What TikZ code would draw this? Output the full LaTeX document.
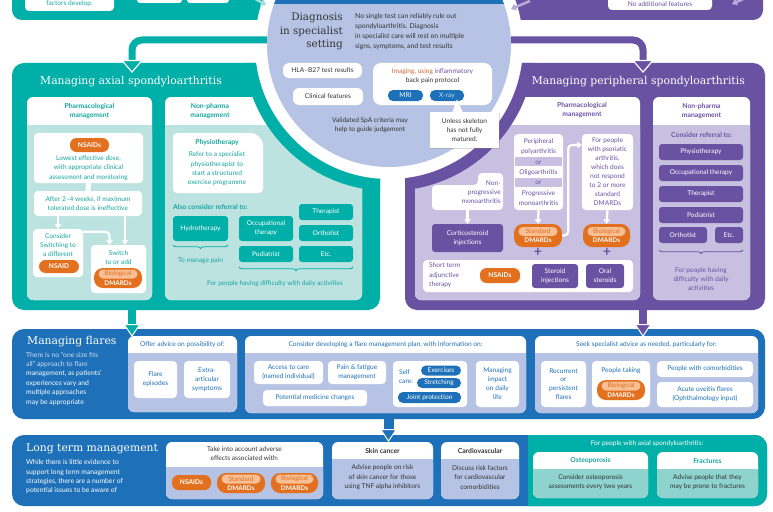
\documentclass[tikz,border=0pt]{standalone}
\usepackage{fontspec}
\setsansfont{Lato}
\newfontfamily\headfont{DejaVu Serif}
\usetikzlibrary{arrows.meta,positioning,shadows,decorations.pathreplacing}
\definecolor{tealD}{HTML}{00AFA8}
\definecolor{tealL}{HTML}{BDE3E1}
\definecolor{tealM}{HTML}{8FD3CE}
\definecolor{tealT}{HTML}{15A59F}
\definecolor{tealP}{HTML}{A3DDD9}
\definecolor{purpD}{HTML}{6A52A3}
\definecolor{purpL}{HTML}{C8C0E0}
\definecolor{purpP}{HTML}{B7ACD8}
\definecolor{blueD}{HTML}{1E71B8}
\definecolor{blueL}{HTML}{B7C3E4}
\definecolor{blueT}{HTML}{CFDBF2}
\definecolor{blueX}{HTML}{C9D6F0}
\definecolor{orng}{HTML}{E2701F}
\definecolor{orngL}{HTML}{F8BF95}
\definecolor{orngT}{HTML}{C96A2C}
\definecolor{txt}{HTML}{333333}
\newcommand\splitbox[6]{%
  \fill[white,rounded corners=6pt] (#1,#2) rectangle (#3,#5);
  \fill[#6,rounded corners=6pt] (#1,#4) rectangle (#3,#5);
  \fill[#6] (#1,#4) rectangle (#3,#4+7);}
\newcommand\dmardpill[6]{%
  \node[opill,rounded corners=9pt,minimum width=#4,minimum height=#5] (#1) at (#2,#3) {};
  \node[ipill,minimum width=#4-9] (#1-w) at ([yshift=4pt]#1.center) {#6};
  \node[dm] (#1-d) at ([yshift=-5pt]#1.center) {DMARDs};}

\begin{document}
\begin{tikzpicture}[x=1pt,y=-1pt,font=\sffamily\fontsize{6.6}{9}\selectfont,
  panel/.style={fill=#1,rounded corners=12pt,inner sep=0pt},
  wbox/.style={fill=white,rounded corners=4pt,align=center,inner sep=0pt},
  tbox/.style={fill=tealD,text=white,rounded corners=3pt,align=center,inner sep=0pt},
  pbox/.style={fill=purpD,text=white,rounded corners=3pt,align=center,inner sep=0pt},
  opill/.style={fill=orng,text=white,rounded corners=6.5pt,inner sep=0pt,
    font=\sffamily\bfseries\fontsize{6.6}{8}\selectfont},
  ipill/.style={fill=orngL,text=orng,minimum height=9,rounded corners=4.5pt,inner sep=0pt,
    font=\sffamily\fontsize{6.4}{8}\selectfont},
  dm/.style={text=white,inner sep=0pt,font=\sffamily\bfseries\fontsize{6.4}{8}\selectfont},
  bpill/.style={fill=blueD,text=white,rounded corners=5pt,inner sep=0pt},
  hd/.style={align=center,inner sep=0pt,font=\sffamily\bfseries\fontsize{6.8}{9}\selectfont},
  tx/.style={align=center,inner sep=0pt},
  head/.style={text=white,inner sep=0pt,font=\headfont\fontsize{10.8}{13.5}\selectfont},
  warr/.style={white,line width=2.2pt,-{Triangle[width=6.5pt,length=4.5pt]}},
  bigarr/.style={draw=#1,line width=7pt,rounded corners=10pt,
    -{Triangle[width=22pt,length=13pt,fill=#1,color=white,line width=1.2pt]}},
  downarr/.style={draw=#1,line width=8pt,
    -{Triangle[width=17pt,length=13pt,fill=#1,color=white,line width=1pt]}},
  brc/.style={draw=#1,line width=0.8pt,decorate,decoration={brace,mirror,amplitude=3.5pt}},
  plus/.style={text=purpD,inner sep=0pt,font=\sffamily\bfseries\fontsize{14}{14}\selectfont}]
  \useasboundingbox (0,0) rectangle (773,511);
  \fill[white] (0,0) rectangle (773,511);
  \coordinate (axin) at (132,73);
  \coordinate (perin) at (643,73);
  \coordinate (flaxin) at (132,337);
  \coordinate (flperin) at (643,337);
  \coordinate (ltin) at (388.5,442);
  \fill[tealD,rounded corners=10pt] (12,-20) rectangle (300,20);
  \fill[purpD,rounded corners=10pt] (480,-20) rectangle (763,20);
  \fill[white,rounded corners=4pt] (25,-12) rectangle (114,11);
  \fill[white,rounded corners=3pt] (137,-12) rectangle (182,3);
  \fill[white,rounded corners=3pt] (187,-12) rectangle (229,3);
  \fill[white,rounded corners=4pt] (608,-12) rectangle (712,10);
  \node[tx,text=tealT] (factors) at (69.5,4) {factors develop.};
  \node[tx,text=purpD] (noadd) at (660,4) {No additional features};

  \node[panel=tealD,minimum width=368,minimum height=247] (axial) at (196,186.5) {};
  \node[panel=purpD,minimum width=360,minimum height=247] (periph) at (585,186.5) {};
  \node[panel=blueD,minimum width=753,minimum height=90] (flares) at (388.5,374) {};
  \node[panel=blueD,minimum width=755,minimum height=71] (longterm) at (389.5,470.5) {};
  \begin{scope}
    \clip[rounded corners=12pt] (12,435) rectangle (767,506);
    \fill[tealD] (528,430) rectangle (770,510);
  \end{scope}

  \splitbox{27}{97}{152}{125}{300}{tealL}
  \splitbox{165}{97}{362}{125}{300}{tealL}
  \splitbox{415}{97}{640}{125}{300}{purpL}
  \splitbox{653}{97}{750}{125}{300}{purpL}
  \splitbox{128}{336}{237}{353}{412}{blueL}
  \splitbox{245}{336}{526}{353}{413}{blueL}
  \splitbox{535}{336}{758}{353}{413}{blueL}
  \splitbox{166}{442}{323}{467}{499}{blueL}
  \splitbox{332}{442}{433}{459}{499}{blueL}
  \splitbox{441}{442}{519}{459}{499}{blueL}
  \splitbox{533}{452}{648}{469}{498}{tealM}
  \splitbox{657}{452}{758}{469}{498}{tealM}

  \begin{scope}
    \clip[rounded corners=12pt] (12,63) rectangle (380,310);
    \fill[tealD] (389,45) circle[radius=146pt];
  \end{scope}
  \begin{scope}
    \clip[rounded corners=12pt] (405,63) rectangle (765,310);
    \fill[purpD] (389,45) circle[radius=146pt];
  \end{scope}
  \fill[white] (389,45) circle[radius=134pt];

  \coordinate (ta1) at (250,-4); \coordinate (ta2) at (266,5);
  \coordinate (pa1) at (530,1); \coordinate (pa2) at (511,9);
  \coordinate (pb1) at (750,-4); \coordinate (pb2) at (732,4);
  \draw[tealP,line width=2.5pt,-{Triangle[width=7pt,length=5pt]}] (ta1) -- (ta2);
  \draw[purpP,line width=2.5pt,-{Triangle[width=7pt,length=5pt]}] (pa1) -- (pa2);
  \draw[purpP,line width=2.5pt,-{Triangle[width=7pt,length=5pt]}] (pb1) -- (pb2);

  \node[circle,fill=blueL,minimum size=244,inner sep=0pt] (diag) at (389,45) {};
  \begin{scope}
    \clip (389,45) circle[radius=122pt];
    \fill[blueD] (250,-10) rectangle (530,4);
  \end{scope}
  \draw[bigarr=tealD] ([yshift=5pt]diag.west) -| (axin);
  \draw[bigarr=purpD] ([yshift=5pt]diag.east) -| (perin);
  \draw[downarr=tealD] ([xshift=-64pt,yshift=5pt]axial.south) -- (flaxin);
  \draw[downarr=purpD] ([xshift=58pt,yshift=5pt]periph.south) -- (flperin);
  \draw[downarr=blueD,line width=10pt] ([yshift=5pt]flares.south) -- (ltin);

  \node[anchor=east,align=right,inner sep=0pt,text=txt,font=\headfont\fontsize{10.4}{13.5}\selectfont]
    (diaghead) at (343,31.5) {Diagnosis\\in specialist\\setting};
  \node[anchor=west,align=left,inner sep=0pt,text=txt,font=\sffamily\fontsize{6.8}{9.8}\selectfont]
    (diagtxt) at (355,31.5) {No single test can reliably rule out\\spondyloarthritis. Diagnosis\\in specialist care will rest on multiple\\signs, symptoms, and test results};
  \node[wbox,rounded corners=6pt,minimum width=79,minimum height=15,text=txt] (hla) at (322.5,70.5) {HLA–B27 test results};
  \node[wbox,rounded corners=6pt,minimum width=70,minimum height=17,text=txt] (clin) at (328,96.5) {Clinical features};
  \node[wbox,rounded corners=8pt,minimum width=119,minimum height=42] (imag) at (432.5,84) {};
  \node[tx,text=txt] (imagtxt) at (432.5,76) {\textcolor{orngT}{Imaging, using} \textcolor{purpD}{inflammatory}\\back pain protocol};
  \node[bpill,minimum width=35,minimum height=11] (mri) at (405.5,95.5) {MRI};
  \node[bpill,minimum width=34,minimum height=11,text=blueX] (xray) at (447,95.5) {X-ray};
  \node[wbox,rounded corners=0pt,minimum width=69,minimum height=36,text=txt,
    drop shadow={shadow xshift=0.8pt,shadow yshift=-0.8pt,opacity=0.3}] (skel) at (464.5,130) {Unless skeleton\\has not fully\\matured.};
  \fill[white] ([xshift=-12pt]skel.north) -- ([xshift=10pt,yshift=2pt]xray.south) -- ([xshift=-2pt]skel.north) -- cycle;
  \node[tx,text=txt] (valid) at (370,125) {Validated SpA criteria may\\help to guide judgement};

  \node[head,anchor=west] (axhead) at (40,82) {Managing axial spondyloarthritis};
  \node[hd,text=tealT] (axphhd) at (89.5,111.5) {Pharmacological\\management};
  \node[hd,text=tealT] (axnphd) at (210,111.5) {Non-pharma\\management};
  \node[wbox,minimum width=109,minimum height=50] (nsaidbox) at (88.5,158) {};
  \node[opill,minimum width=39,minimum height=14] (nsaid1) at (89.5,145) {NSAIDs};
  \node[tx,text=tealT,font=\sffamily\fontsize{6.6}{9.5}\selectfont] (lowest) at (88.5,168) {Lowest effective dose,\\with appropriate clinical\\assessment and monitoring};
  \node[wbox,minimum width=108,minimum height=25,text=tealT] (after) at (88,203.5) {After 2–4 weeks, if maximum\\tolerated dose is ineffective};
  \draw[white,line width=5pt] (nsaidbox.south) -- (after.north);
  \node[wbox,minimum width=50,minimum height=48] (consider) at (58,253) {};
  \node[tx,text=tealT] (considertxt) at (58,245) {Consider\\Switching to\\a different};
  \node[opill,minimum width=40,minimum height=13] (nsaid2) at (59,266.5) {NSAID};
  \node[wbox,minimum width=55,minimum height=48] (switch) at (118.5,269) {};
  \node[tx,text=tealT] (switchtxt) at (118.5,257.5) {Switch\\to or add};
  \dmardpill{biol1}{118}{278}{48}{20}{Biological}
  \draw[warr] ([xshift=-30pt]after.south) -- (consider.north);
  \draw[warr] ([xshift=37pt]after.south) -- ([xshift=37pt]after.south |- switch.north);
  \draw[warr,rounded corners=4pt] ([yshift=-3pt]consider.north east) -| ([xshift=-9pt]switch.north);

  \fill[white,rounded corners=4pt] (173,133) -- (255,133) -- (263,141) -- (263,193) -- (173,193) -- cycle;
  \node[hd,text=tealT] (physiohd) at (217,143) {Physiotherapy};
  \node[tx,text=tealT,font=\sffamily\fontsize{6.6}{9.3}\selectfont] (physiotxt) at (217,169) {Refer to a specialist\\physiotherapist to\\start a structured\\exercise programme};
  \node[hd,text=tealT,anchor=west] (alsoref) at (173,207) {Also consider referral to:};
  \node[tbox,minimum width=55,minimum height=25] (hydro) at (200.5,228.5) {Hydrotherapy};
  \node[tbox,minimum width=54,minimum height=25] (occup) at (266,228.5) {Occupational\\therapy};
  \node[tbox,minimum width=54,minimum height=16] (therap) at (326,212) {Therapist};
  \node[tbox,minimum width=54,minimum height=16] (orth) at (326,233) {Orthotist};
  \node[tbox,minimum width=54,minimum height=16] (podi) at (266,254) {Podiatrist};
  \node[tbox,minimum width=54,minimum height=16] (etc1) at (326,254) {Etc.};
  \draw[brc=tealD] (173,245) -- (228,245);
  \draw[brc=tealD] (239,267) -- (353,267);
  \node[tx,text=tealT] (painlbl) at (200.5,261) {To manage pain};
  \node[tx,text=tealT] (dailylbl) at (275,284) {For people having difficulty with daily activities};

  \node[head,anchor=east] (perhead) at (745,82) {Managing peripheral spondyloarthritis};
  \node[hd,text=purpD] (pephhd) at (582,110.5) {Pharmacological\\management};
  \fill[white,rounded corners=4pt] (478,173) -- (503,173) -- (503,210) -- (432,210) -- (432,185) -- (478,185) -- cycle;
  \node[tx,align=right,anchor=east,text=purpD] (nonprog) at (501,192.5) {Non-\\progressive\\monoarthritis};
  \node[pbox,minimum width=71,minimum height=28] (cortico) at (467.5,238) {Corticosteroid\\injections};
  \draw[warr] ([yshift=-3pt]cortico.north |- nonprog.south) -- (cortico.north);
  \node[wbox,minimum width=49,minimum height=76] (poly) at (538.5,172) {};
  \fill[purpL] (515,157) rectangle (562,166);
  \fill[purpL] (515,178) rectangle (562,187);
  \node[tx,text=purpD,font=\sffamily\fontsize{6.6}{10.3}\selectfont] (polytxt) at (538.5,172) {Peripheral\\polyarthritis\\or\\Oligoarthritis\\or\\Progressive\\monoarthritis};
  \dmardpill{std1}{538}{235.5}{48}{23}{Standard}
  \draw[warr] (poly.south) -- (std1.north);
  \node[wbox,minimum width=51,minimum height=76,text=purpD] (psor) at (607.5,172) {For people\\with psoriatic\\arthritis,\\which does\\not respond\\to 2 or more\\standard\\DMARDs};
  \dmardpill{biol2}{606.5}{235.5}{47}{23}{Biological}
  \draw[warr] (psor.south) -- (biol2.north);
  \draw[warr,rounded corners=4pt] (std1.east) -- ++(6,0) |- ([yshift=27pt]psor.west);
  \node[plus] (plus1) at (538,252.5) {+};
  \node[plus] (plus2) at (607,252.5) {+};
  \node[wbox,minimum width=210,minimum height=32] (short) at (528,276) {};
  \node[tx,align=left,anchor=west,text=purpD,font=\sffamily\fontsize{6.6}{9.5}\selectfont] (shorttxt) at (429,275.5) {Short term\\adjunctive\\therapy};
  \node[opill,minimum width=40,minimum height=15] (nsaid3) at (500,275.5) {NSAIDs};
  \node[pbox,minimum width=46,minimum height=24] (sterinj) at (555,276) {Steroid\\injections};
  \node[pbox,minimum width=38,minimum height=24] (oral) at (605,276) {Oral\\steroids};

  \node[hd,text=purpD] (penphd) at (701.5,111.5) {Non-pharma\\management};
  \node[hd,text=purpD] (consref) at (701.5,135) {Consider referral to:};
  \node[pbox,minimum width=84,minimum height=16] (physio2) at (701,152) {Physiotherapy};
  \node[pbox,minimum width=84,minimum height=16] (occ2) at (701,173) {Occupational therapy};
  \node[pbox,minimum width=84,minimum height=16] (ther2) at (701,194) {Therapist};
  \node[pbox,minimum width=84,minimum height=16] (podi2) at (701,215) {Podiatrist};
  \node[pbox,minimum width=48,minimum height=16] (orth2) at (683,235) {Orthotist};
  \node[pbox,minimum width=28,minimum height=16] (etc2) at (729,235) {Etc.};
  \draw[brc=purpD] (659,250) -- (743,250);
  \node[tx,text=purpD] (daily2) at (701,279) {For people having\\difficulty with daily\\activities};

  \node[head,anchor=west] (flhead) at (27,342) {Managing flares};
  \node[anchor=west,align=left,inner sep=0pt,text=white,font=\sffamily\fontsize{6.8}{9.4}\selectfont] (fltxt) at (26,378.5)
    {\textcolor{blueT}{There is no “one size fits}\\\textcolor{blueT}{all” approach to flare}\\management, as patients’\\experiences vary and\\multiple approaches\\may be appropriate};
  \node[tx,text=blueD] (offerhd) at (182.5,344.5) {Offer advice on possibility of:};
  \node[wbox,minimum width=43,minimum height=37,text=blueD] (flep) at (155.5,379.5) {Flare\\episodes};
  \node[wbox,minimum width=46,minimum height=37,text=blueD] (extra) at (207,379.5) {Extra-\\articular\\symptoms};
  \node[tx,text=blueD] (planhd) at (385.5,345) {Consider developing a flare management plan, with information on:};
  \node[wbox,minimum width=69,minimum height=23,text=blueD] (access) at (288.5,372.5) {Access to care\\(named individual)};
  \node[wbox,minimum width=58,minimum height=23,text=blueD] (pain) at (357,372.5) {Pain \& fatigue\\management};
  \node[wbox,minimum width=104,minimum height=16,text=blueD] (potential) at (315,398) {Potential medicine changes};
  \node[wbox,minimum width=74,minimum height=46] (selfcare) at (430,384) {};
  \node[tx,align=left,text=blueD] (selftxt) at (406,377) {Self\\care:};
  \node[bpill,minimum width=40,minimum height=10] (exer) at (441,370.5) {Exercises};
  \node[bpill,minimum width=44,minimum height=10] (stretch) at (439,383) {Stretching};
  \node[bpill,minimum width=63,minimum height=11] (joint) at (429.5,397.5) {Joint protection};
  \node[wbox,minimum width=43,minimum height=46,text=blueD] (managing) at (497.5,384) {Managing\\impact\\on daily\\life};
  \node[tx,text=blueD] (seekhd) at (646.5,345) {Seek specialist advice as needed, particularly for:};
  \node[wbox,minimum width=45,minimum height=46,text=blueD,font=\sffamily\fontsize{6.6}{8.7}\selectfont] (recur) at (563.5,384) {Recurrent\\or\\persistent\\flares};
  \node[wbox,minimum width=58,minimum height=46] (taking) at (621,384) {};
  \node[tx,text=blueD] (takingtxt) at (621,371) {People taking};
  \dmardpill{biol3}{621}{390}{48}{20}{Biological}
  \node[wbox,minimum width=96,minimum height=16,text=blueD] (comorb) at (705,369) {People with comorbidities};
  \node[wbox,minimum width=96,minimum height=25,text=blueD] (uveitis) at (705,394.5) {Acute uveitis flares\\(Ophthalmology input)};

  \node[head,anchor=west] (lthead) at (26,449) {Long term management};
  \node[anchor=west,align=left,inner sep=0pt,text=white,font=\sffamily\fontsize{6.8}{9.3}\selectfont] (lttxt) at (26,477)
    {While there is little evidence to\\support long term management\\strategies, there are a number of\\potential issues to be aware of};
  \node[tx,text=txt] (takehd) at (244.5,453.5) {Take into account adverse\\effects associated with:};
  \node[opill,minimum width=39,minimum height=15] (nsaid4) at (191.5,482.5) {NSAIDs};
  \dmardpill{std2}{241}{483}{48}{20}{Standard}
  \dmardpill{biol4}{294.5}{483}{47}{20}{Biological}
  \node[hd,text=txt] (skinhd) at (382.5,451) {Skin cancer};
  \node[tx,text=txt,font=\sffamily\fontsize{6.6}{9.5}\selectfont] (skintxt) at (382.5,477.5) {Advise people on risk\\of skin cancer for those\\using TNF alpha inhibitors};
  \node[hd,text=txt] (cardiohd) at (480,451) {Cardiovascular};
  \node[tx,text=txt,font=\sffamily\fontsize{6.6}{9.5}\selectfont] (cardiotxt) at (480,477.5) {Discuss risk factors\\for cardiovascular\\comorbidities};
  \node[tx,text=white] (axlbl) at (647,444) {For people with axial spondyloarthritis:};
  \node[hd,text=tealT] (osteohd) at (590.5,461) {Osteoporosis};
  \node[tx,text=txt] (osteotxt) at (590.5,482.5) {Consider osteoporosis\\assessments every two years};
  \node[hd,text=tealT] (frachd) at (707.5,461) {Fractures};
  \node[tx,text=txt] (fractxt) at (707.5,482.5) {Advise people that they\\may be prone to fractures};
\end{tikzpicture}
\end{document}
